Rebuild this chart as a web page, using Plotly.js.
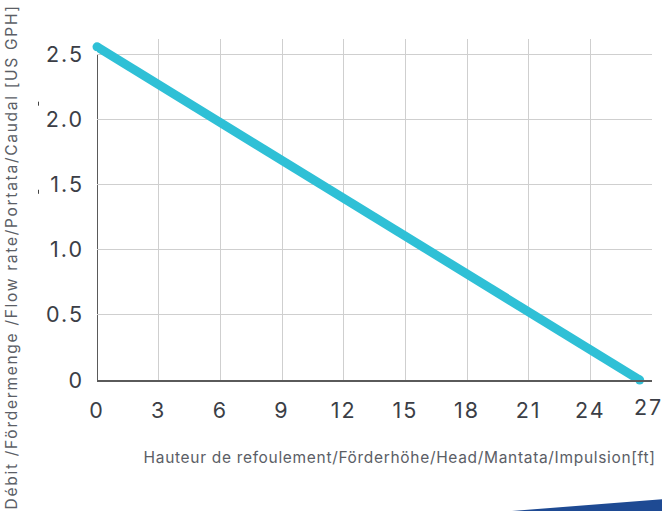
<!DOCTYPE html>
<html>
<head>
<meta charset="utf-8">
<script src="https://cdn.plot.ly/plotly-3.0.1.min.js"></script>
<style>
html,body{margin:0;padding:0;background:#fff;}#chart{width:662px;height:511px;}
#chart .xtick text, #chart .ytick text, #chart .tick27 text { letter-spacing: 2px !important; }
</style>
</head>
<body>
<div id="chart"></div>
<script>
// Data
const head = [0, 26.4];
const flow = [2.56, 0];
const xTicks = [0, 3, 6, 9, 12, 15, 18, 21, 24, 27];
const yTicks = [0, 0.5, 1.0, 1.5, 2.0, 2.5];
const yTickText = ['0', '0.5', '1.0', '1.5', '2.0', '2.5'];
const xTitle = 'Hauteur de refoulement/Förderhöhe/Head/Mantata/Impulsion[ft]';
const yTitle = 'Débit /Fördermenge /Flow rate/Portata/Caudal [US GPH]';

const font = 'Inter, "Open Sans", sans-serif';
const TICK_SIZE = 21.5, TITLE_SIZE = 15.5;

const W = 662, H = 511;
const L = 97, R = 10, T = 39.4, B = 131;
const pw = W - L - R, ph = H - T - B;
const px = v => (v - L) / pw;
const py = v => (H - B - v) / ph;

const trace = {
  x: head, y: flow, type: 'scatter', mode: 'lines+markers',
  line: {color: '#2fc0d6', width: 9},
  marker: {color: '#2fc0d6', size: 9},
  cliponaxis: false, hoverinfo: 'none', showlegend: false
};

const layout = {
  width: W, height: H,
  margin: {l: L, r: R, t: T, b: B},
  paper_bgcolor: '#fff', plot_bgcolor: '#fff',
  font: {family: font, color: '#3b3e46'},
  xaxis: {
    range: [0, 27], tickvals: xTicks, ticktext: xTicks.map(String),
    showgrid: true, gridcolor: '#cfcfcf', gridwidth: 1,
    zeroline: false, showline: true, linecolor: '#5a5a5a', linewidth: 2,
    ticks: '', ticklabelstandoff: 10,
    tickfont: {size: TICK_SIZE, color: '#3b3e46', family: font},
    fixedrange: true
  },
  yaxis: {
    range: [0, 2.62], tickvals: yTicks, ticktext: yTickText,
    showgrid: true, gridcolor: '#cfcfcf', gridwidth: 1,
    zeroline: false, showline: false,
    ticks: '', ticklabelstandoff: 12,
    tickfont: {size: TICK_SIZE, color: '#3b3e46', family: font},
    fixedrange: true
  },
  shapes: [
    {type: 'line', xref: 'x', yref: 'y', x0: 0, x1: 0, y0: 0, y1: 2.5,
     line: {color: '#5a5a5a', width: 2}, layer: 'below'},
    {type: 'path', xref: 'paper', yref: 'paper',
     path: `M ${px(510)} ${py(511)} L ${px(662)} ${py(499)} L ${px(662)} ${py(511)} Z`,
     fillcolor: '#1e4a93', line: {width: 0}},
    {type: 'line', xref: 'paper', yref: 'paper', x0: px(38.5), x1: px(38.5), y0: py(102), y1: py(106),
     line: {color: '#444', width: 1}},
    {type: 'line', xref: 'paper', yref: 'paper', x0: px(38.5), x1: px(38.5), y0: py(190), y1: py(194),
     line: {color: '#444', width: 1}}
  ],
  annotations: [
    {text: yTitle, xref: 'paper', yref: 'paper', x: px(12), y: py(257),
     textangle: -90, showarrow: false, xanchor: 'center', yanchor: 'middle',
     font: {size: TITLE_SIZE, color: '#5b5e66', family: font}},
    {text: xTitle, xref: 'paper', yref: 'paper', x: px(399), y: py(457),
     showarrow: false, xanchor: 'center', yanchor: 'middle',
     font: {size: TITLE_SIZE, color: '#5b5e66', family: font}},
    {text: '27', xref: 'paper', yref: 'paper', x: px(648), y: py(407),
     showarrow: false, xanchor: 'center', yanchor: 'middle',
     font: {size: TICK_SIZE, color: '#3b3e46', family: font}}
  ]
};

function widen(el, target) {
  const w = el.getComputedTextLength();
  const n = (el.textContent || '').length;
  if (!n) return;
  el.style.letterSpacing = Math.max(0, (target - w) / n) + 'px';
}

Plotly.newPlot('chart', [trace], layout, {displayModeBar: false, staticPlot: true}).then(gd => {
  const anns = gd.querySelectorAll('.annotation');
  anns.forEach(a => {
    const t = a.querySelector('.annotation-text');
    if (!t) return;
    const txt = t.textContent;
    if (txt === yTitle) widen(t, 505);
    else if (txt === xTitle) widen(t, 512);
    else if (txt === '27') a.classList.add('tick27');
  });
});
</script>
</body>
</html>
